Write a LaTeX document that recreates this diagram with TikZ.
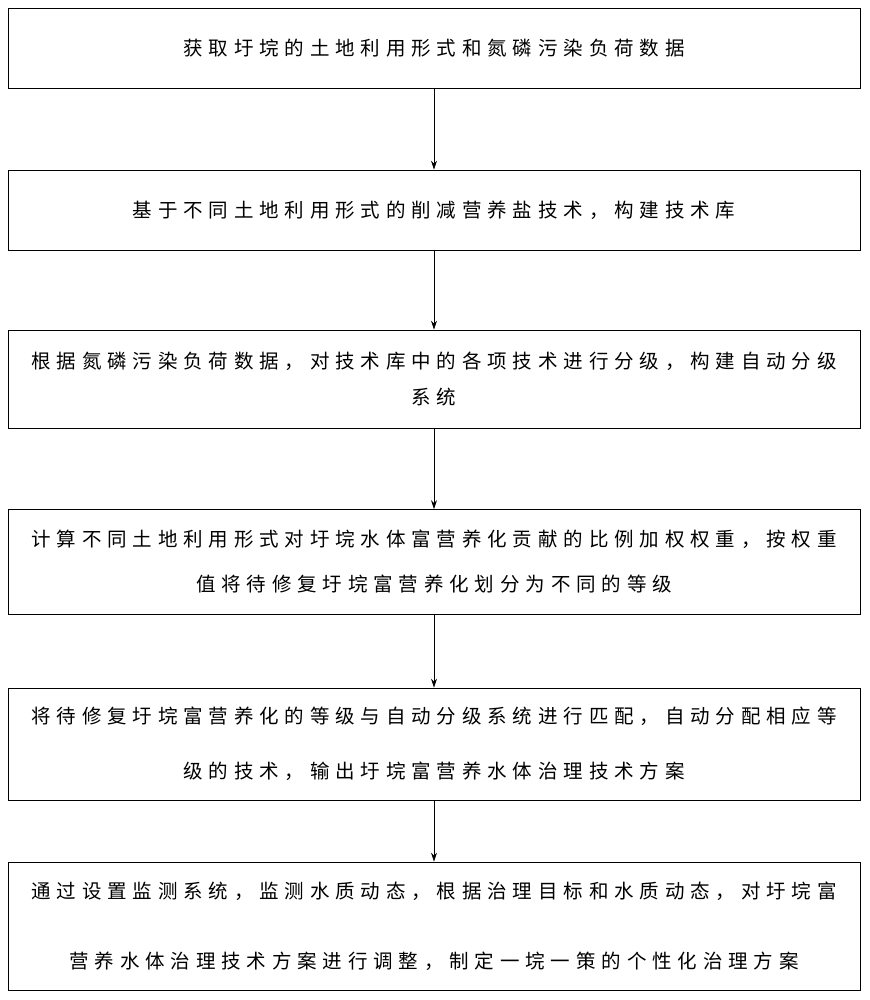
\documentclass[tikz,border=0pt]{standalone}
\usepackage{fontspec}
\newfontfamily\cjk[LetterSpace=30]{Noto Sans CJK SC}
\usetikzlibrary{arrows.meta}
\begin{document}
\begin{tikzpicture}[x=1pt,y=-1pt,
  box/.style={draw,line width=0.8pt,minimum width=852pt,align=center,inner sep=0pt,font={\cjk\fontsize{19.5}{23}\selectfont}},
  arr/.style={-{Stealth[length=9pt,width=6pt]},line width=0.8pt}]
\useasboundingbox (0,0) rectangle (869,1000);
\node[box,minimum height=80pt] (b1) at (434,48) {获取圩垸的土地利用形式和氮磷污染负荷数据};
\node[box,minimum height=80pt] (b2) at (434,210) {基于不同土地利用形式的削减营养盐技术，构建技术库};
\node[box,minimum height=98pt] (b3) at (434,379) {根据氮磷污染负荷数据，对技术库中的各项技术进行分级，构建自动分级\\[13pt] 系统};
\node[box,minimum height=105pt] (b4) at (434,562) {计算不同土地利用形式对圩垸水体富营养化贡献的比例加权权重，按权重\\[22pt] 值将待修复圩垸富营养化划分为不同的等级};
\node[box,minimum height=112pt] (b5) at (434,744) {将待修复圩垸富营养化的等级与自动分级系统进行匹配，自动分配相应等\\[32pt] 级的技术，输出圩垸富营养水体治理技术方案};
\node[box,minimum height=128pt] (b6) at (434,926) {通过设置监测系统，监测水质动态，根据治理目标和水质动态，对圩垸富\\[47pt] 营养水体治理技术方案进行调整，制定一垸一策的个性化治理方案};
\draw[arr] (b1) -- (b2);
\draw[arr] (b2) -- (b3);
\draw[arr] (b3) -- (b4);
\draw[arr] (b4) -- (b5);
\draw[arr] (b5) -- (b6);
\end{tikzpicture}
\end{document}
